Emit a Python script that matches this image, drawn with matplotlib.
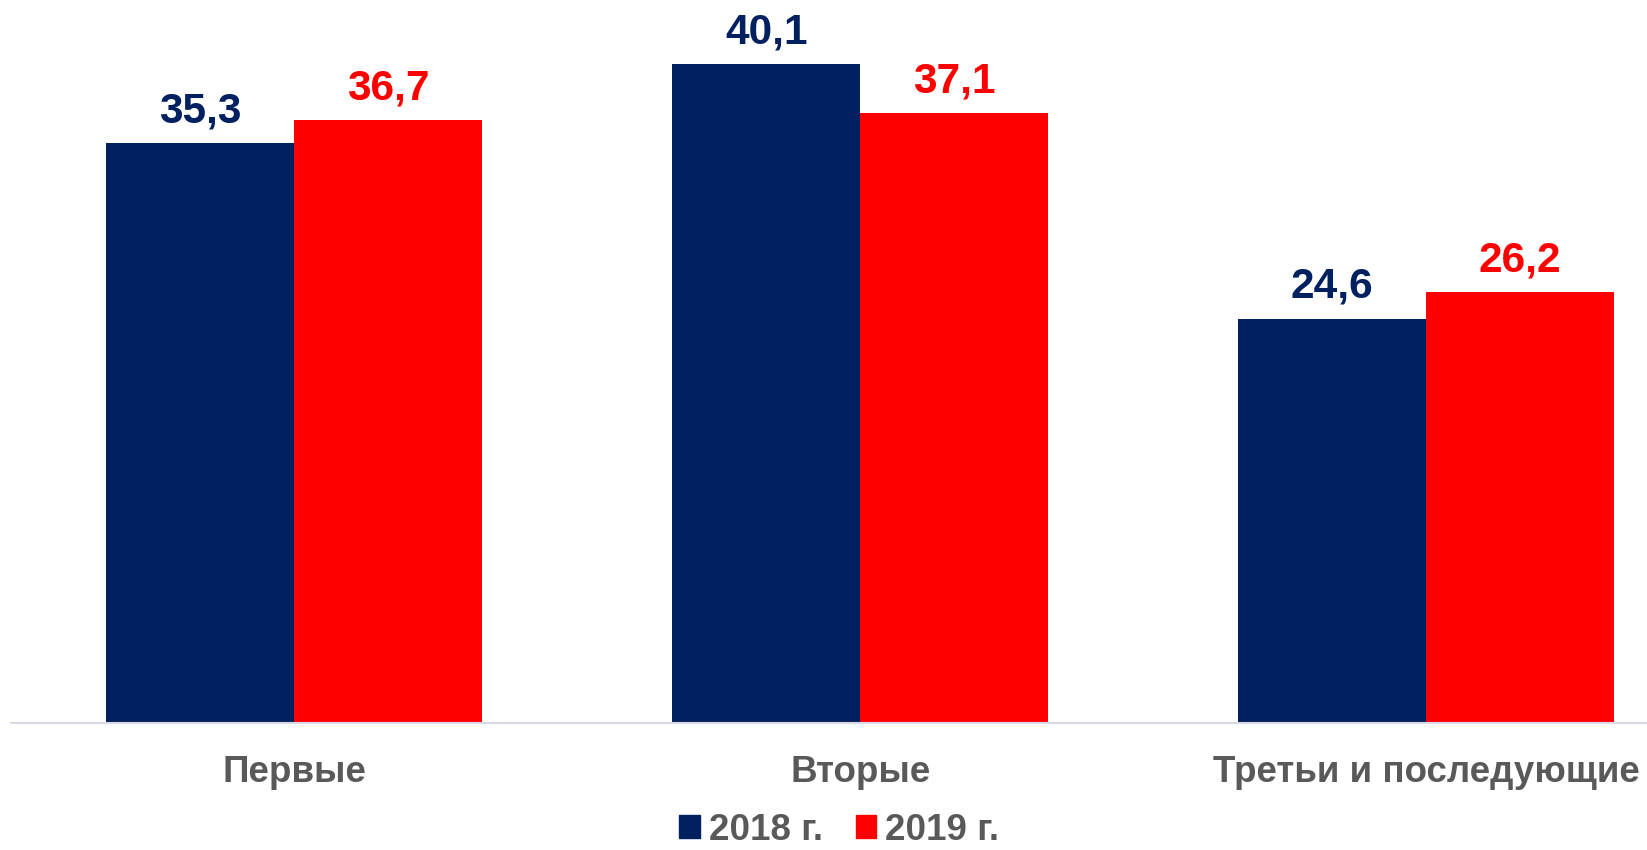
import numpy as np
import matplotlib.pyplot as plt
from matplotlib.patches import Patch

categories = ["Первые", "Вторые", "Третьи и последующие"]
series_names = ["2018 г.", "2019 г."]
values_2018 = [35.3, 40.1, 24.6]
values_2019 = [36.7, 37.1, 26.2]
colors = ["#002060", "#FF0000"]

plt.rcParams['font.family'] = ['Liberation Sans', 'DejaVu Sans']

fig = plt.figure(figsize=(16.47, 8.5), dpi=100)
ax = fig.add_axes([11/1647, 127/850, 1 - 11/1647, 1 - 127/850])

x = np.arange(len(categories))
w = 0.332
bars_a = ax.bar(x - w/2, values_2018, w, color=colors[0])
bars_b = ax.bar(x + w/2, values_2019, w, color=colors[1])

# value labels above bars, comma as decimal sep
for bars, vals, c in [(bars_a, values_2018, colors[0]), (bars_b, values_2019, colors[1])]:
    for b, v in zip(bars, vals):
        ax.annotate(f"{v:.1f}".replace(".", ","), (b.get_x() + b.get_width()/2, v),
                    xytext=(0, 15), textcoords="offset points", ha="center", va="baseline",
                    fontsize=30.5, fontweight="bold", color=c)

ax.set_xlim(-0.5, 2.39)
ax.set_ylim(0, 44)
ax.set_xticks(x)
ax.set_xticklabels(categories, fontsize=26.5, fontweight="bold", color="#595959")
ax.tick_params(axis="x", length=0, pad=23)
ax.set_yticks([])
for s in ["top", "right", "left"]:
    ax.spines[s].set_visible(False)
ax.spines["bottom"].set_color("#D9D9E8")
ax.spines["bottom"].set_linewidth(1.5)

handles = [Patch(color=c) for c in colors]
leg = fig.legend(handles, series_names, loc="center", bbox_to_anchor=(0.5097, 20/850),
                 ncol=2, frameon=False, handlelength=0.55, handleheight=0.55,
                 handletextpad=0.25, columnspacing=0.9, borderpad=0, borderaxespad=0,
                 prop={"size": 26.5, "weight": "bold"})
for t in leg.get_texts():
    t.set_color("#595959")

fig.savefig("out.png", dpi=100)
